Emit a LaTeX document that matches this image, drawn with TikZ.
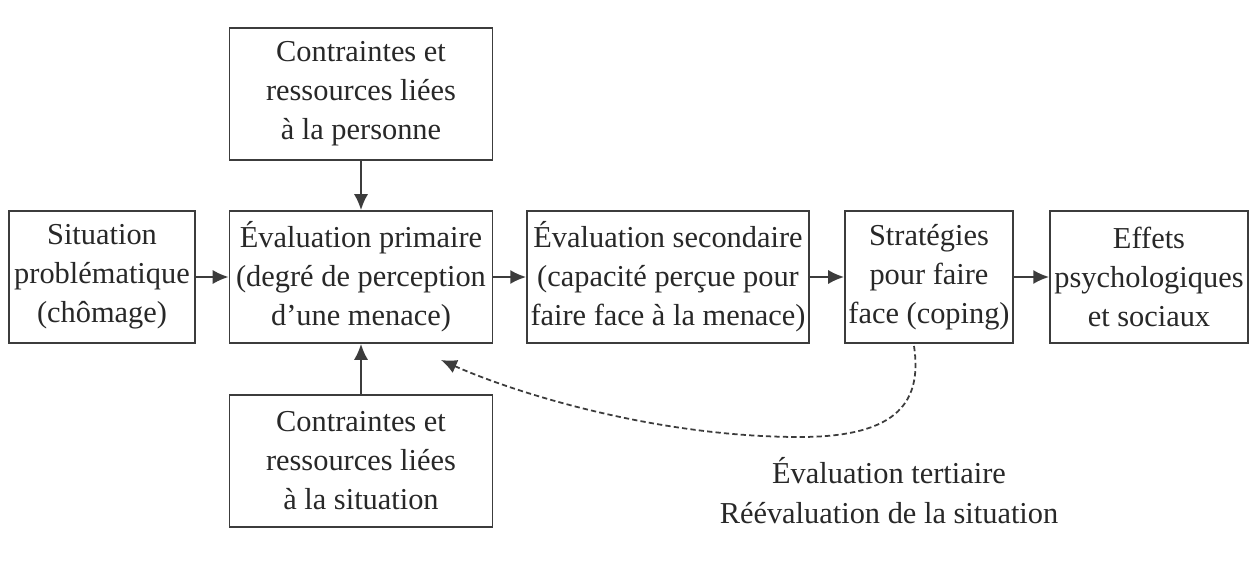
\documentclass[tikz,border=0pt]{standalone}
\usepackage{fontspec}
\setmainfont{Liberation Serif}
\usepackage{xcolor}
\usetikzlibrary{arrows.meta}
\definecolor{linegray}{RGB}{60,60,60}
\definecolor{textgray}{RGB}{40,40,40}

\begin{document}
\begin{tikzpicture}[x=0.02cm, y=-0.02cm,
  box/.style={draw=linegray, line width=1.1pt, text=textgray, align=center,
    inner sep=0pt, minimum height=2.64cm, font=\fontsize{17.3}{22.2}\selectfont},
  arrow/.style={draw=linegray, line width=1pt, -{Latex[length=9pt,width=8pt]}},
  loop/.style={draw=linegray, line width=1pt, dash pattern=on 3pt off 1.8pt,
    -{Latex[length=9pt,width=8pt]}}]

% Background
\useasboundingbox (0,0) rectangle (1251,571);
\fill[white] (0,0) rectangle (1251,571);

% Boxes
\node[box, minimum width=5.26cm] (pers) at (361,94) {Contraintes et\\ressources liées\\à la personne};
\node[box, minimum width=3.72cm] (sit) at (102,277) {Situation\\problématique\\(chômage)};
\node[box, minimum width=5.26cm] (prim) at (361,277) {Évaluation primaire\\(degré de perception\\d'une menace)};
\node[box, minimum width=5.64cm] (sec) at (668,277) {Évaluation secondaire\\(capacité perçue pour\\faire face à la menace)};
\node[box, minimum width=3.36cm] (strat) at (929,277) {Stratégies\\pour faire\\face (coping)};
\node[box, minimum width=3.96cm] (eff) at (1149,277) {Effets\\psychologiques\\et sociaux};
\node[box, minimum width=5.26cm] (situ) at (361,461) {Contraintes et\\ressources liées\\à la situation};

% Main chain
\foreach \a/\b in {sit/prim, prim/sec, sec/strat, strat/eff} {
    \draw[arrow] (\a) -- (\b);
}
\draw[arrow] (pers) -- (prim);
\draw[arrow] (situ) -- (prim);

% Tertiary appraisal (feedback)
\coordinate (loopstart) at (914,346);
\coordinate (loopend) at (441,360);
\draw[loop] (loopstart) .. controls (922,400) and (900,437) .. (800,437)
    .. controls (660,437) and (520,395) .. (loopend);
\node[text=textgray, align=center, font=\fontsize{17.3}{22.7}\selectfont] (tert) at (889,491)
    {Évaluation tertiaire\\Réévaluation de la situation};

\end{tikzpicture}
\end{document}
